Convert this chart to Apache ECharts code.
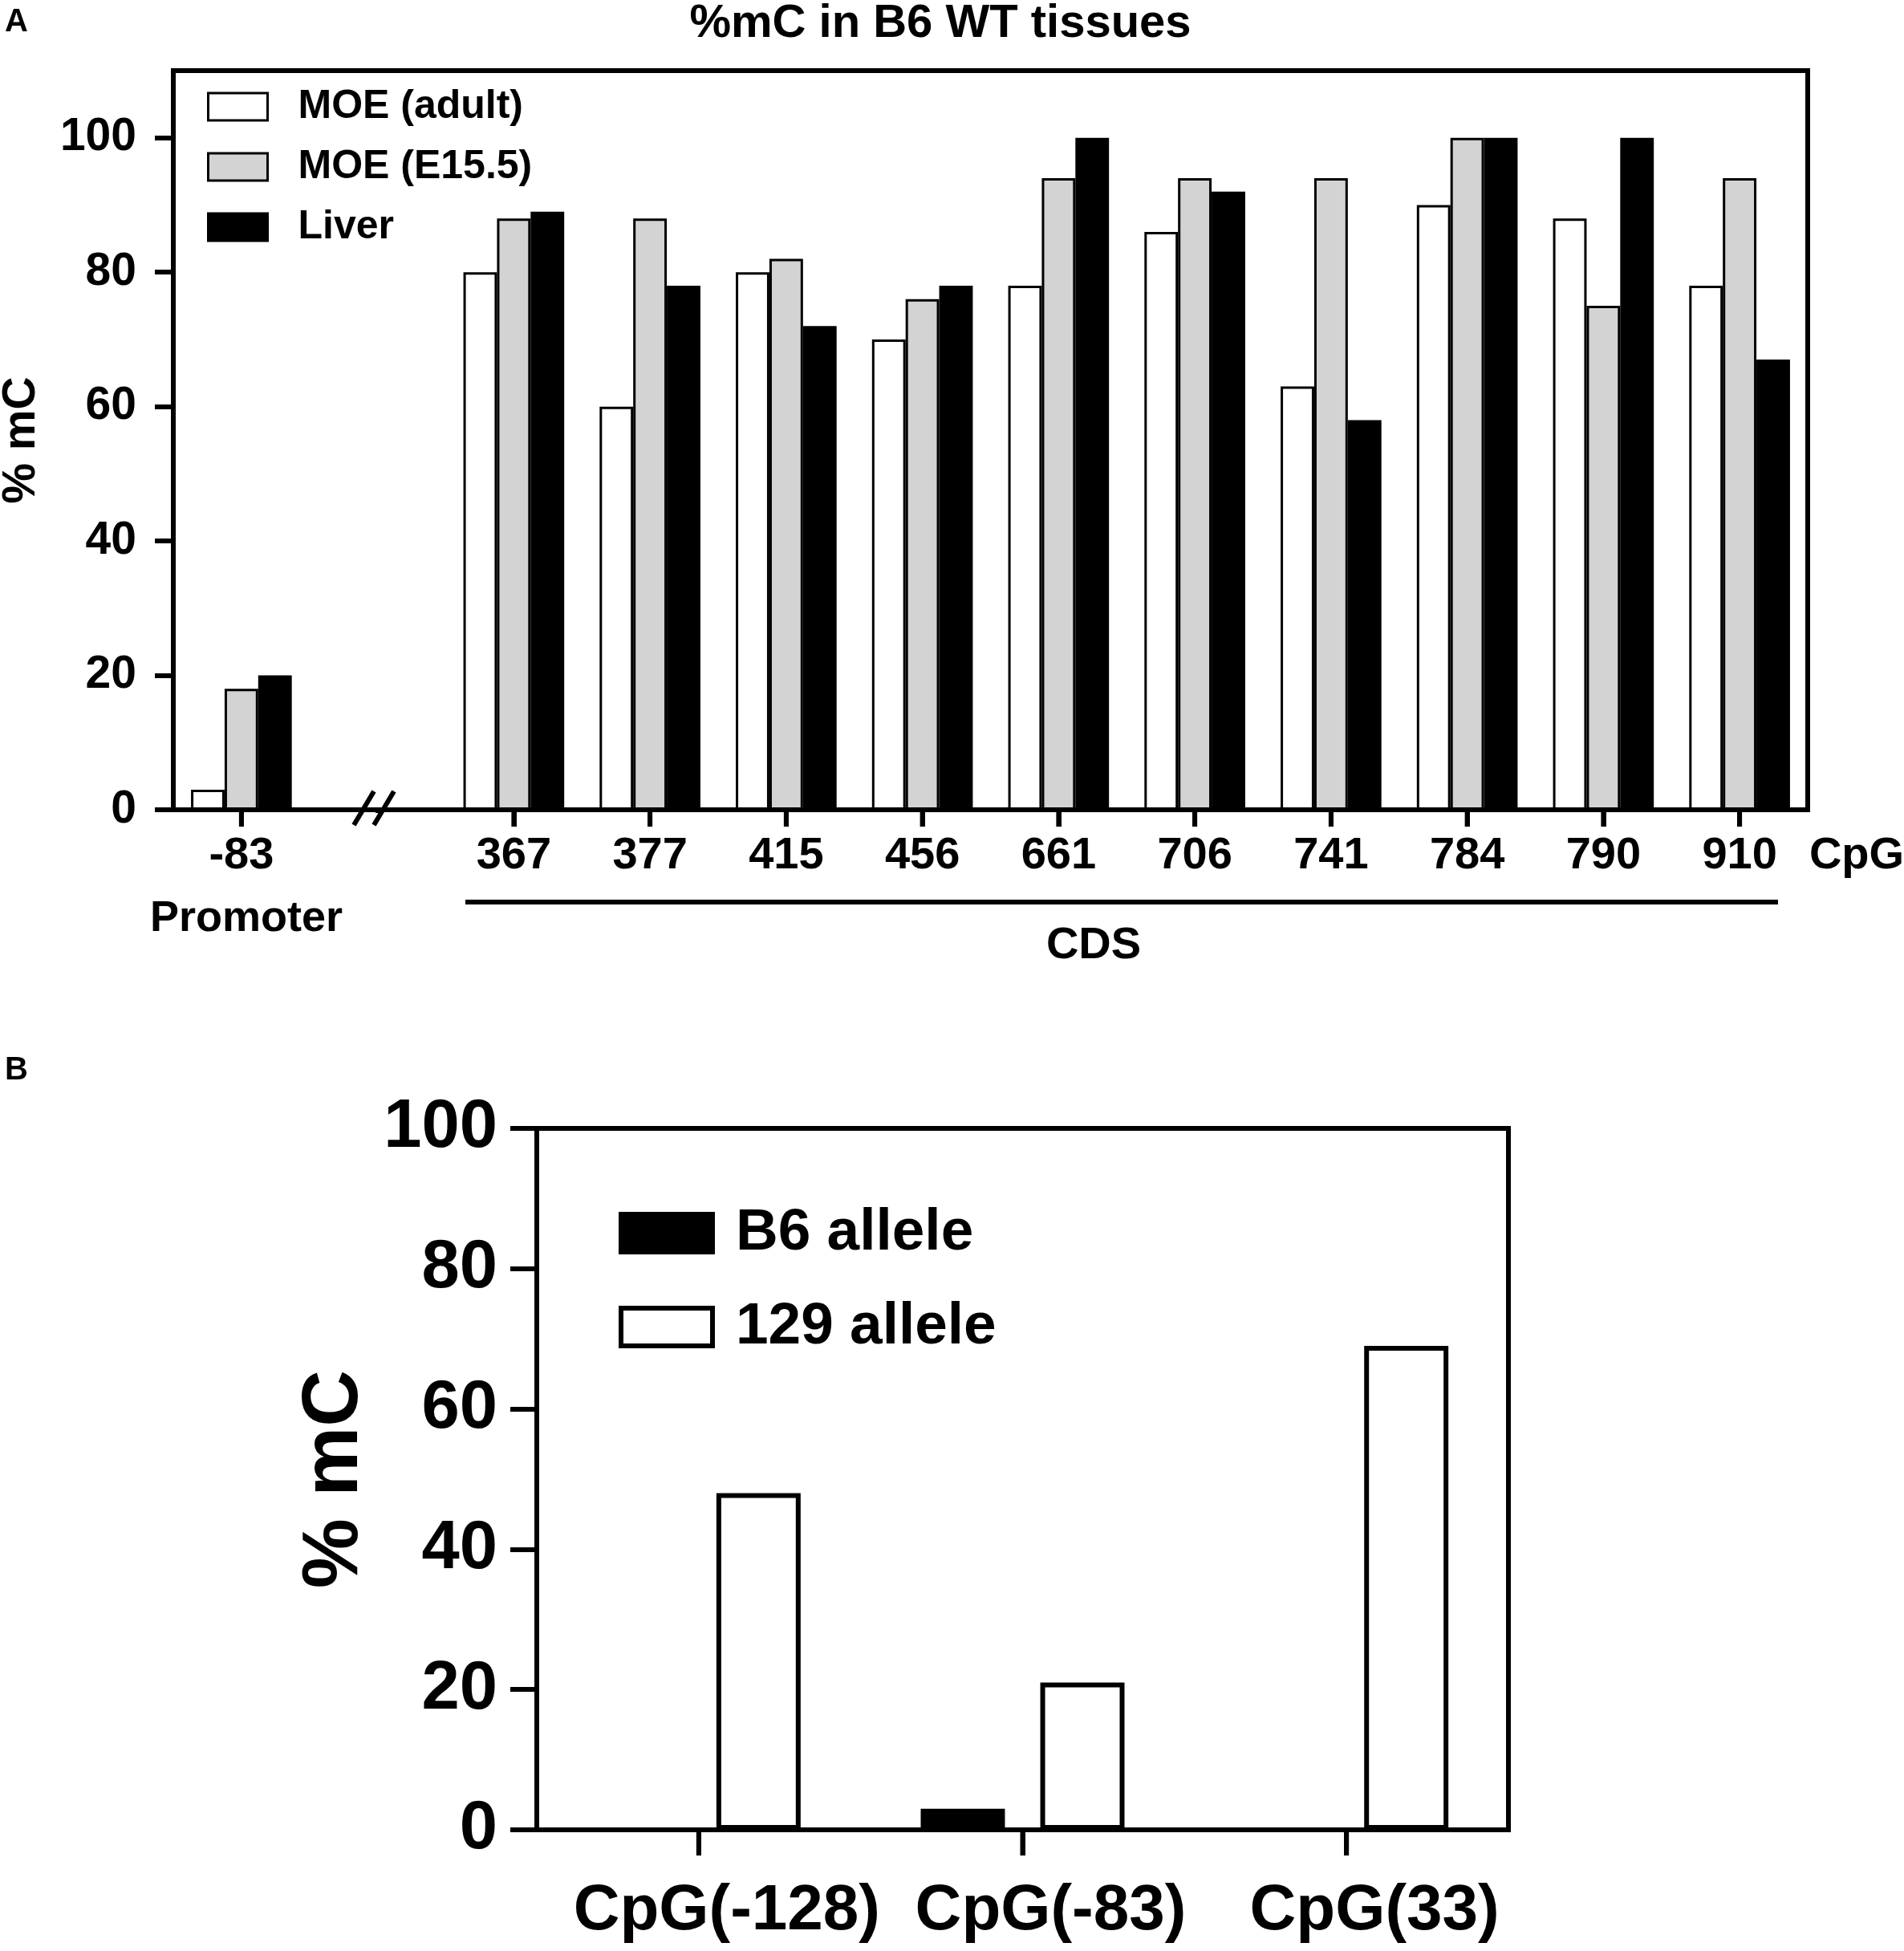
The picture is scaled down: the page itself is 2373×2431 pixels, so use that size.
<!DOCTYPE html>
<html>
<head>
<meta charset="utf-8">
<script src="https://cdn.jsdelivr.net/npm/echarts@6/dist/echarts.min.js"></script>
<style>
html, body { margin: 0; padding: 0; background: #fff; }
.panel { position: absolute; left: 0; top: 0; width: 2373px; height: 2431px; }
</style>
</head>
<body>
<div id="panelA" class="panel"></div>
<div id="panelB" class="panel"></div>
<script>
// panel A - %mC at each CpG, B6 WT tissues ('' = axis break slot)
var cpgSites = ['-83', '', '367', '377', '415', '456', '661', '706', '741', '784', '790', '910'];
var moeAdult = [3, null, 80, 60, 80, 70, 78, 86, 63, 90, 88, 78];
var moeE155 = [18, null, 88, 88, 82, 76, 94, 94, 94, 100, 75, 94];
var liver = [20, null, 89, 78, 72, 78, 100, 92, 58, 100, 100, 67];
var yTicksA = [0, 20, 40, 60, 80, 100];

// panel B - allele specific %mC
var cpgAllele = ['CpG(-128)', 'CpG(-83)', 'CpG(33)'];
var b6Allele = [0, 3, 0];
var allele129 = [48, 21, 69];
var yTicksB = [0, 20, 40, 60, 80, 100];

var FONT = '"Liberation Sans", Arial, Helvetica, sans-serif';

function txt(size, extra) {
  var s = { fontFamily: FONT, fontWeight: 'bold', fontSize: size, color: '#000' };
  for (var k in extra) s[k] = extra[k];
  return s;
}

function label(text, x, y, size) {
  return { type: 'text', x: x, y: y, z: 100,
    style: { text: text, font: 'bold ' + size + 'px ' + FONT, align: 'center', verticalAlign: 'middle', fill: '#000' } };
}

function line(x1, y1, x2, y2) {
  return { type: 'line', z: 100, shape: { x1: x1, y1: y1, x2: x2, y2: y2 }, style: { stroke: '#000', lineWidth: 6 } };
}

function bar(name, data, fill, border, extra) {
  var s = { type: 'bar', name: name, data: data,
    itemStyle: { color: fill, borderColor: '#000', borderWidth: border },
    emphasis: { disabled: true } };
  for (var k in extra) s[k] = extra[k];
  return s;
}

function yAxis(max, tickLen, labelSize, margin, nameSize, nameGap, ticks) {
  return {
    type: 'value', min: 0, max: max, interval: 20,
    axisLine: { show: true, lineStyle: { color: '#000', width: 6 } },
    axisTick: { show: true, length: tickLen, customValues: ticks, lineStyle: { color: '#000', width: 6 } },
    axisLabel: txt(labelSize, { margin: margin, customValues: ticks }),
    splitLine: { show: false },
    name: '% mC', nameLocation: 'middle', nameRotate: 90, nameGap: nameGap,
    nameTextStyle: txt(nameSize)
  };
}

// category ticks below the x axis, placed through the chart's own scales
function categoryTicks(chart, cats, len) {
  var y0 = chart.convertToPixel({ yAxisIndex: 0 }, 0);
  var out = [];
  cats.forEach(function (c, i) {
    if (c === '') return;
    var x = chart.convertToPixel({ xAxisIndex: 0 }, i);
    out.push(line(x, y0, x, y0 + len));
  });
  return out;
}

var chartA = echarts.init(document.getElementById('panelA'));
var graphicA = [
  label('%mC in B6 WT tissues', 1172, 30, 58),
  { type: 'text', x: 6, y: 28, style: { text: 'A', font: 'bold 40px ' + FONT, align: 'left', verticalAlign: 'middle', fill: '#000' } },
  { type: 'text', x: 6, y: 1334, style: { text: 'B', font: 'bold 40px ' + FONT, align: 'left', verticalAlign: 'middle', fill: '#000' } },
  label('CpG', 2314, 1067, 56),
  label('Promoter', 307, 1145, 54),
  label('CDS', 1363, 1179, 56),
  line(580, 1124, 2216, 1124),
  // axis break mark
  { type: 'rect', z: 99, shape: { x: 452, y: 1013, width: 36, height: 24 }, style: { fill: '#fff' } },
  line(441, 1028, 466, 986),
  line(466, 1028, 491, 986)
];
chartA.setOption({
  animation: false,
  grid: [{ left: 216, top: 88, width: 2037, height: 921,
    show: true, borderColor: '#000', borderWidth: 6, outerBoundsMode: 'none' }],
  legend: [{
    left: 253, top: 103, orient: 'vertical',
    itemWidth: 74, itemHeight: 34, itemGap: 25, icon: 'rect',
    data: ['MOE (adult)', 'MOE (E15.5)', 'Liver'],
    itemStyle: { borderWidth: 3 },
    textStyle: txt(50, { lineHeight: 34, padding: [0, 0, 0, 33] }),
    selectedMode: false
  }],
  xAxis: [{
    type: 'category', data: cpgSites,
    axisLine: { lineStyle: { color: '#000', width: 6 } },
    axisTick: { show: true, alignWithLabel: true, length: 21, lineStyle: { color: '#000', width: 6 } },
    axisLabel: txt(56, { interval: 0, margin: 30 })
  }],
  yAxis: [yAxis(110, 23, 57, 46, 57, 160, yTicksA)],
  series: [
    bar('MOE (adult)', moeAdult, '#ffffff', 3, { barGap: '0%', barCategoryGap: '26%' }),
    bar('MOE (E15.5)', moeE155, '#d3d3d3', 3, { barGap: '0%', barCategoryGap: '26%' }),
    bar('Liver', liver, '#000000', 3, { barGap: '0%', barCategoryGap: '26%' })
  ],
  graphic: graphicA
});
chartA.setOption({ graphic: graphicA.concat(categoryTicks(chartA, cpgSites, 21)) });

var chartB = echarts.init(document.getElementById('panelB'));
chartB.setOption({
  animation: false,
  grid: [{ left: 669, top: 1406, width: 1211, height: 874,
    show: true, borderColor: '#000', borderWidth: 6, outerBoundsMode: 'none' }],
  legend: [{
    left: 766, top: 1495, orient: 'vertical',
    itemWidth: 114, itemHeight: 47, itemGap: 44, icon: 'rect',
    data: ['B6 allele', '129 allele'],
    itemStyle: { borderWidth: 6 },
    textStyle: txt(73, { lineHeight: 47, padding: [0, 0, 0, 24] }),
    selectedMode: false
  }],
  xAxis: [{
    type: 'category', data: cpgAllele,
    axisLine: { lineStyle: { color: '#000', width: 6 } },
    axisTick: { show: true, alignWithLabel: true, length: 32, lineStyle: { color: '#000', width: 6 } },
    axisLabel: txt(80, { interval: 0, margin: 62, padding: [0, 0, 0, 70] })
  }],
  yAxis: [yAxis(100, 33, 85, 49, 98, 192, yTicksB)],
  series: [
    bar('B6 allele', b6Allele, '#000000', 6, { barWidth: '26%', barGap: '42%' }),
    bar('129 allele', allele129, '#ffffff', 6, { barWidth: '26%', barGap: '42%' })
  ]
});
chartB.setOption({ graphic: categoryTicks(chartB, cpgAllele, 32) });
</script>
</body>
</html>
